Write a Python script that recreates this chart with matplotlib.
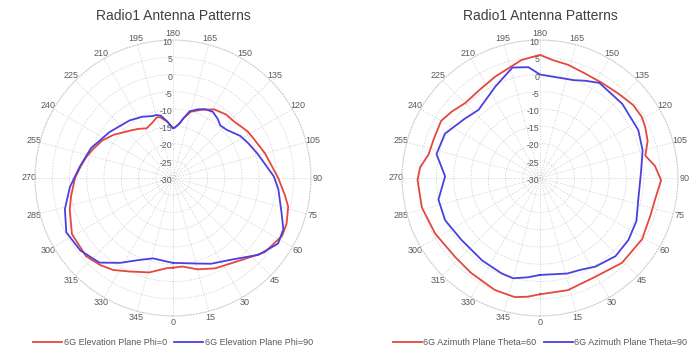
import numpy as np
import matplotlib
matplotlib.use("Agg")
import matplotlib.pyplot as plt
from matplotlib.transforms import offset_copy

plt.rcParams['font.family'] = ['Liberation Sans', 'DejaVu Sans']

# ---------------- data ----------------
title_text = "Radio1 Antenna Patterns"
theta_ticks = list(range(0, 360, 15))
r_ticks = list(range(-30, 11, 5))

# Left: elevation plane
elev_phi0_ang = [0, 6, 15, 25, 40, 51, 62, 68, 76, 81, 90, 105, 116, 122, 133, 140, 149, 157,
                 165, 170, 173, 178, 180, 186, 192, 195, 200, 208, 215, 222, 234, 242, 250,
                 256, 263, 270, 280, 287, 299, 312, 320, 327, 335, 346, 356, 360]
elev_phi0_val = [-4.0, -4.2, -2.6, -1.1, 1.0, 4.2, 5.8, 5.5, 4.4, 2.9, 0.5, -2.4, -4.0, -4.5,
                 -5.9, -6.0, -6.8, -8.5, -10.1, -12.4, -14.0, -15.4, -15.5, -13.5, -12.0, -11.8,
                 -12.8, -13.7, -12.6, -11.5, -8.7, -6.8, -5.4, -4.2, -3.0, -1.6, 0.0, 1.3, 3.5,
                 3.9, 2.9, 1.8, -0.1, -1.8, -3.8, -4.0]

elev_phi90_ang = [0, 16, 24, 36, 48, 58, 65, 72, 84, 91, 106, 115, 122, 132, 138, 143, 149, 155,
                  160, 166, 170, 173, 178, 180, 186, 191, 195, 198, 207, 217, 234, 250, 263,
                  275, 286, 297, 308, 319, 328, 338, 346, 356, 360]
elev_phi90_val = [-5.4, -4.2, -2.8, -0.8, 3.3, 5.9, 5.3, 3.1, 0.7, -0.8, -4.5, -6.0, -7.0, -9.1,
                  -9.5, -8.5, -7.6, -8.0, -8.8, -10.1, -12.4, -14.0, -15.4, -15.6, -13.5, -11.6,
                  -11.1, -11.1, -10.1, -9.1, -7.3, -4.7, -2.8, 0.0, 2.6, 4.7, 4.1, 2.5, -1.0,
                  -4.4, -6.0, -5.7, -5.4]

# Right: azimuth plane
azim_t60_ang = [0, 14, 29, 44, 59, 71, 79, 89, 96, 102, 109, 116, 121, 128, 137, 147, 157, 166,
                174, 180, 189, 204, 214, 225, 233, 240, 250, 258, 265, 271, 284, 298, 313, 324,
                338, 348, 354, 360]
azim_t60_val = [3.7, 3.5, 2.8, 4.2, 4.5, 3.8, 3.9, 5.1, 3.5, 1.2, 3.0, 3.9, 4.4, 4.3, 3.4, 2.9,
                3.0, 3.8, 4.4, 5.7, 4.6, 2.1, 1.0, 0.7, 2.0, 3.1, 2.8, 3.0, 4.9, 5.5, 5.3, 4.4,
                3.6, 4.0, 5.0, 5.3, 4.6, 3.7]

azim_t90_ang = [0, 16, 24, 32, 44, 55, 66, 77, 93, 105, 116, 132, 148, 155, 161, 173, 180, 186,
                194, 206, 222, 232, 245, 257, 269, 282, 294, 308, 325, 338, 345, 353, 360]
azim_t90_val = [-1.9, -1.2, -0.9, 0.3, 1.5, 1.3, 0.6, -0.8, -0.7, 0.8, 1.7, 2.1, 2.5, 1.1, 0.0,
                -0.4, 0.0, 2.3, 3.0, -0.5, -3.4, -2.2, 0.4, 0.8, -2.5, 0.1, 0.1, -1.0, -0.8,
                -0.2, 0.1, -1.0, -1.9]

panels = [
    (elev_phi0_ang, elev_phi0_val, "6G Elevation Plane Phi=0",
     elev_phi90_ang, elev_phi90_val, "6G Elevation Plane Phi=90"),
    (azim_t60_ang, azim_t60_val, "6G Azimuth Plane Theta=60",
     azim_t90_ang, azim_t90_val, "6G Azimuth Plane Theta=90"),
]

# ---------------- style ----------------
RED = "#E5473F"
BLUE = "#4A40E0"
GRID = "#cfcfcf"
TXT = "#595959"

W, H = 697, 357
fig = plt.figure(figsize=(W / 100, H / 100), dpi=100)

centers = [(173, 178), (540, 178)]
R = 138

for (cx, cy), (a1, v1, l1, a2, v2, l2) in zip(centers, panels):
    ax = fig.add_axes([(cx - R) / W, (H - cy - R) / H, 2 * R / W, 2 * R / H],
                      projection='polar')
    ax.set_theta_zero_location('S')
    ax.set_theta_direction(1)
    ax.set_ylim(-30, 10)
    ax.set_rticks(r_ticks)
    ax.set_yticklabels([])
    ax.set_thetagrids(theta_ticks, [str(t) for t in theta_ticks])
    ax.tick_params(axis='x', labelsize=6.5, labelcolor=TXT, pad=-2.5, length=0)
    ax.grid(True, color=GRID, linestyle=':', linewidth=0.7)
    ax.spines['polar'].set_color(GRID)
    ax.spines['polar'].set_linestyle(':')
    ax.spines['polar'].set_linewidth(0.8)

    rtrans = offset_copy(ax.transData, fig=fig, x=-0.5, y=-2.5, units='dots')
    for t in r_ticks:
        ax.text(np.pi, t, str(t), ha='right', va='center', fontsize=6.3, color=TXT,
                transform=rtrans)

    ax.plot(np.deg2rad(a1), v1, color=RED, lw=1.3, label=l1)
    ax.plot(np.deg2rad(a2), v2, color=BLUE, lw=1.3, label=l2)

    ax.legend(loc='center', bbox_to_anchor=(0.5, -0.095), ncol=2, frameon=False,
              fontsize=6.5, labelcolor=TXT, handlelength=3.2, handletextpad=0.2,
              columnspacing=0.8)

    fig.text(cx / W, 1 - 16 / H, title_text, ha='center', va='center',
             fontsize=10, color="#404040")

fig.savefig("out.png", dpi=100, facecolor='white')
